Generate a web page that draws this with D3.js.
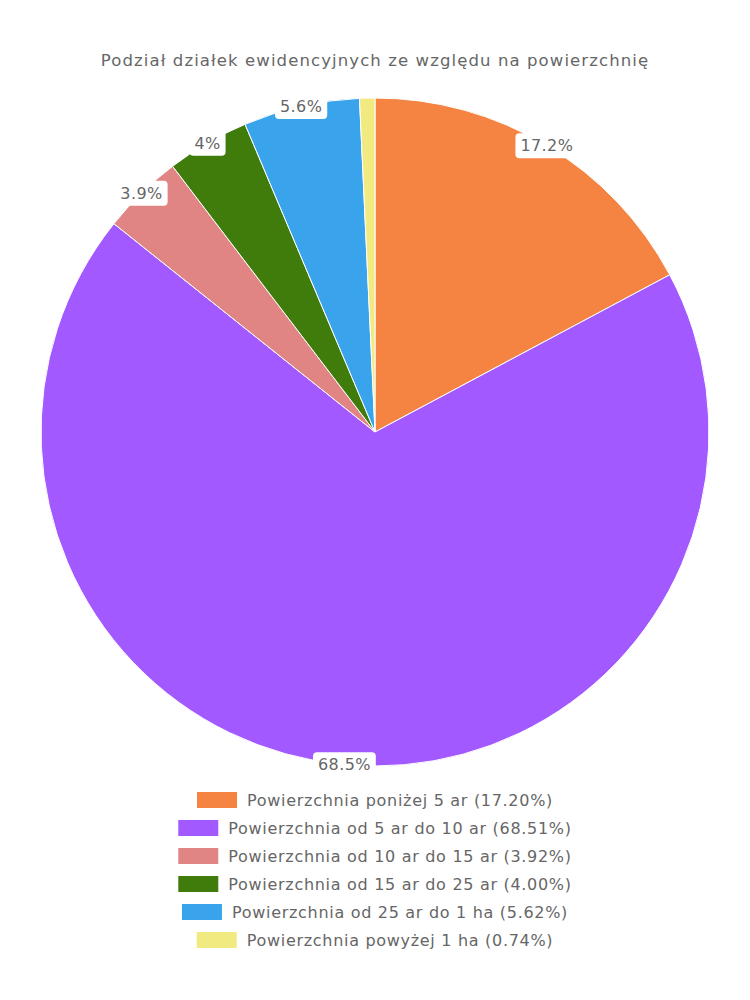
<!DOCTYPE html>
<html>
<head>
<meta charset="utf-8">
<script src="https://cdn.jsdelivr.net/npm/d3@7"></script>
<style>
  body { margin: 0; background: #fff; }
  svg { display: block; font-family: "DejaVu Sans", sans-serif; }
</style>
</head>
<body>
<svg id="chart" width="750" height="1000"></svg>
<script>
// data
var categories = [
    "Powierzchnia poniżej 5 ar",
    "Powierzchnia od 5 ar do 10 ar",
    "Powierzchnia od 10 ar do 15 ar",
    "Powierzchnia od 15 ar do 25 ar",
    "Powierzchnia od 25 ar do 1 ha",
    "Powierzchnia powyżej 1 ha"
];
var shares = [17.20, 68.51, 3.92, 4.00, 5.62, 0.74];
var colors = ["#f58442", "#a259ff", "#e08484", "#3f7c0c", "#39a3eb", "#f0ea80"];
var title = "Podział działek ewidencyjnych ze względu na powierzchnię";

var svg = d3.select("#chart");
var cx = 375, cy = 432, radius = 334;
var textColor = "#666";

svg.append("text")
    .attr("x", 375)
    .attr("y", 66)
    .attr("text-anchor", "middle")
    .attr("fill", textColor)
    .style("font-size", "16.5px")
    .style("letter-spacing", "1.1px")
    .text(title);

var pie = d3.pie().sort(null).value(function(d) { return d; });
var arcs = pie(shares);
var arc = d3.arc().innerRadius(0).outerRadius(radius);

var g = svg.append("g").attr("transform", "translate(" + cx + "," + cy + ")");

g.selectAll("path.slice")
    .data(arcs)
    .enter().append("path")
    .attr("class", "slice")
    .attr("d", arc)
    .attr("fill", function(d, i) { return colors[i]; })
    .attr("stroke", "#fff")
    .attr("stroke-width", 1);

// labels sit on the outer edge, in a white rounded box
function fmt(v) {
    return (+v.toFixed(1)) + "%";
}

arcs.forEach(function(d, i) {
    if (d.data < 1) return;
    var mid = (d.startAngle + d.endAngle) / 2;
    var x = radius * Math.sin(mid);
    var y = -radius * Math.cos(mid);

    var lg = g.append("g").attr("transform", "translate(" + x + "," + y + ")");
    var t = lg.append("text")
        .attr("text-anchor", "middle")
        .attr("dy", "0.35em")
        .attr("fill", textColor)
        .style("font-size", "16px")
        .style("letter-spacing", "0.4px")
        .text(fmt(d.data));
    var bb = t.node().getBBox();
    lg.insert("rect", "text")
        .attr("x", bb.x - 5)
        .attr("y", bb.y - 3)
        .attr("width", bb.width + 10)
        .attr("height", bb.height + 6)
        .attr("rx", 4)
        .attr("fill", "#fff");
});

// legend, one centred row per item
var legendTop = 800, rowH = 28, boxW = 40, boxH = 16, gap = 10;

categories.forEach(function(name, i) {
    var row = svg.append("g");
    var t = row.append("text")
        .attr("x", boxW + gap)
        .attr("y", 0)
        .attr("dy", "0.35em")
        .attr("fill", textColor)
        .style("font-size", "16px")
        .style("letter-spacing", "0.7px")
        .text(name + " (" + shares[i].toFixed(2) + "%)");
    var w = boxW + gap + t.node().getBBox().width;
    row.append("rect")
        .attr("x", 0)
        .attr("y", -boxH / 2)
        .attr("width", boxW)
        .attr("height", boxH)
        .attr("fill", colors[i]);
    row.attr("transform", "translate(" + (375 - w / 2) + "," + (legendTop + i * rowH) + ")");
});
</script>
</body>
</html>
